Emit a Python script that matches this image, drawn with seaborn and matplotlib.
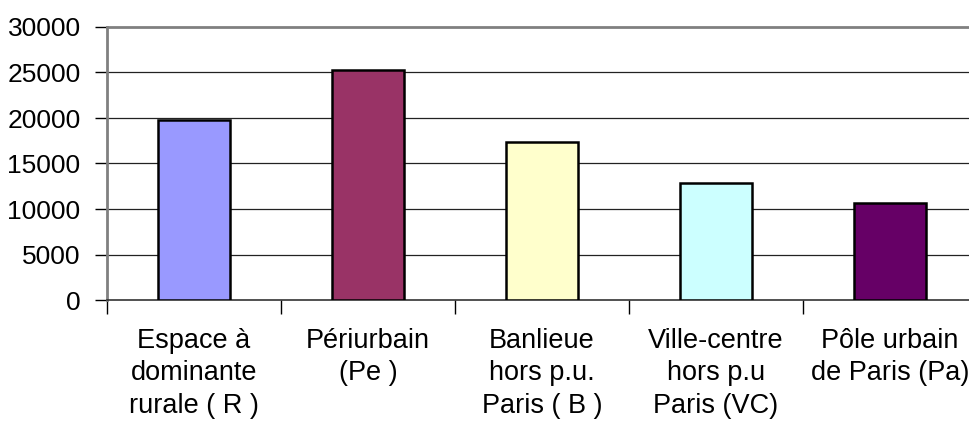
import numpy as np
import matplotlib
matplotlib.use("Agg")
import matplotlib.pyplot as plt
import seaborn as sns
import pandas as pd

# data
categories = ["Espace à\ndominante\nrurale ( R )", "Périurbain\n(Pe )",
              "Banlieue\nhors p.u.\nParis ( B )", "Ville-centre\nhors p.u\nParis (VC)",
              "Pôle urbain\nde Paris (Pa)"]
values = [19800, 25300, 17400, 12900, 10700]
colors = ["#9999FF", "#993366", "#FFFFCC", "#CCFFFF", "#660066"]
yticks = [0, 5000, 10000, 15000, 20000, 25000, 30000]

sns.set_style("white")
plt.rcParams['font.family'] = ['Liberation Sans', 'DejaVu Sans']
plt.rcParams['text.color'] = 'black'
plt.rcParams['xtick.color'] = 'black'
plt.rcParams['ytick.color'] = 'black'

df = pd.DataFrame({"cat": categories, "val": values})

fig = plt.figure(figsize=(9.7, 4.23), dpi=100)
ax = fig.add_axes([107/970, 123/423, 870/970, 273/423])

sns.barplot(data=df, x="cat", y="val", hue="cat", palette=colors, legend=False,
            width=0.41, saturation=1, edgecolor="black", linewidth=1.8, ax=ax, zorder=3)

ax.set_xlim(-0.5, 4.5)
ax.set_ylim(0, 30000)
ax.set_yticks(yticks)
ax.set_yticklabels([str(v) for v in yticks], fontsize=19)
ax.set_xlabel("")
ax.set_ylabel("")

# gridlines
for v in yticks[1:-1]:
    ax.axhline(v, color="#222222", lw=0.9, zorder=1)

# labels centred under bars, tick marks at category boundaries
ax.set_xticks(range(len(categories)))
ax.set_xticklabels(categories, fontsize=19.5, linespacing=1.33, va="top")
ax.tick_params(axis="x", which="major", length=0, pad=20)
ax.set_xticks(np.arange(-0.5, 4.6, 1), minor=True)
ax.tick_params(axis="x", which="minor", bottom=True, length=10, width=1,
               color="black", direction="out")
ax.tick_params(axis="y", length=9, width=1, color="black", direction="out", pad=10, left=True)

for s in ["top", "left"]:
    ax.spines[s].set_color("#808080")
    ax.spines[s].set_linewidth(2)
ax.spines["bottom"].set_color("#333333")
ax.spines["bottom"].set_linewidth(1.2)
ax.spines["right"].set_visible(False)

fig.savefig("out.png", dpi=100)
